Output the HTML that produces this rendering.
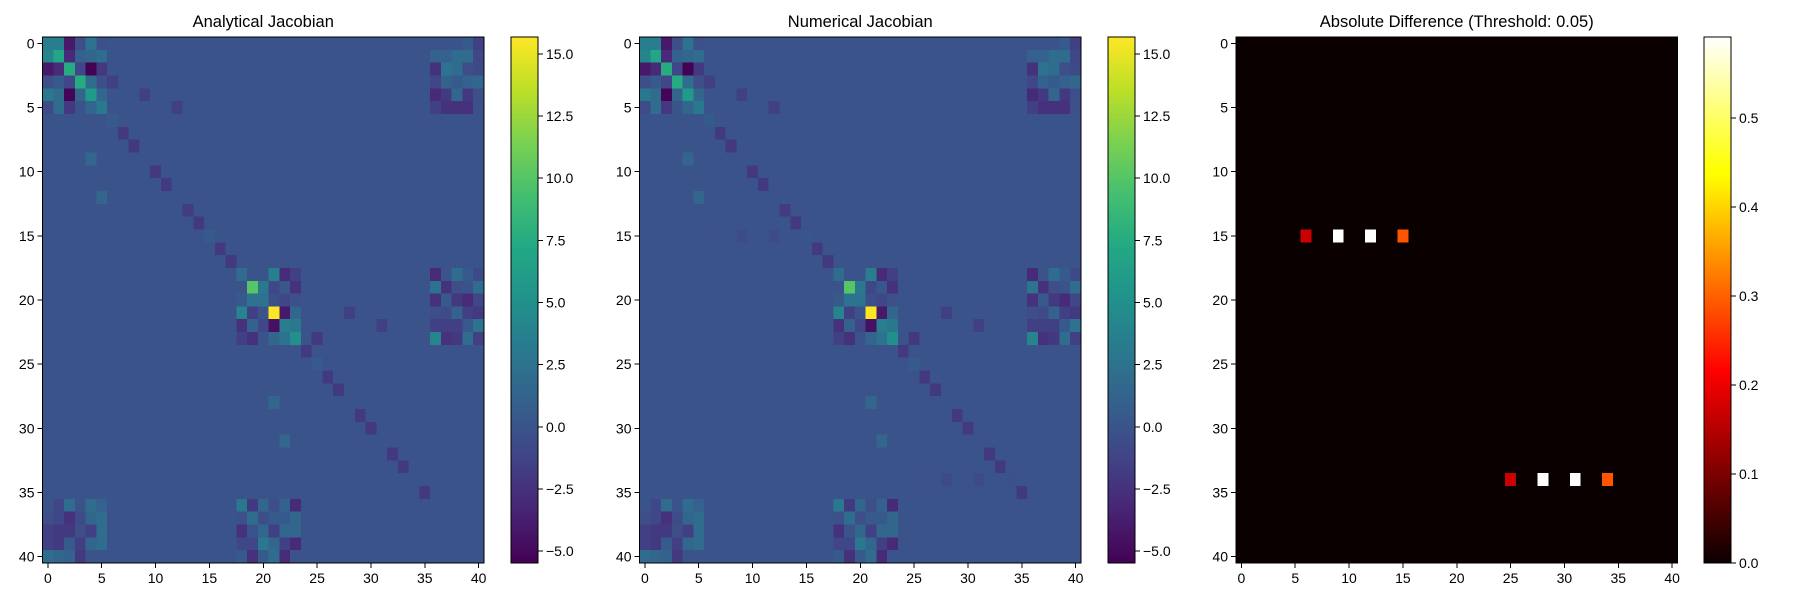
<!DOCTYPE html>
<html><head><meta charset="utf-8">
<style>
html,body{margin:0;padding:0;background:#fff;}
svg{display:block;font-family:"Liberation Sans","DejaVu Sans",sans-serif;}
</style></head>
<body>
<svg id="fig" width="1800" height="600" xmlns="http://www.w3.org/2000/svg" shape-rendering="crispEdges"></svg>
<script>
// ---- data: sparse analytical Jacobian (41x41) ----
const nSize = 41;
const jRows = [0,0,0,0,0,0,0,0, 1,1,1,1,1,1,1,1,1,1,1, 2,2,2,2,2,2,2,2,2,2,2, 3,3,3,3,3,3,3,3,3,3,3,3, 4,4,4,4,4,4,4,4,4,4,4,4, 5,5,5,5,5,5,5,5,5,5,5,
 6,7,8,9,10,11,12,13,14,15,16,17,
 18,18,18,18,18,18,18,18,
 19,19,19,19,19,19,19,19,19,19,
 20,20,20,20,20,20,20,20,20,20,20,
 21,21,21,21,21,21,21,21,21,21,21,
 22,22,22,22,22,22,22,22,22,22,22,22,
 23,23,23,23,23,23,23,23,23,23,23,
 24,25,26,27,28,29,30,31,32,33,35,
 36,36,36,36,36,36,36,36,36,36,
 37,37,37,37,37,37,37,37,37,37,37,37,
 38,38,38,38,38,38,38,38,38,38,38,38,
 39,39,39,39,39,39,39,39,39,39,39,39,
 40,40,40,40,40,40,40,40,40,40];
const jCols = [0,1,2,3,4,5,39,40, 0,1,2,3,4,5,36,37,38,39,40, 0,1,2,3,4,5,36,37,38,39,40, 0,1,2,3,4,5,6,36,37,38,39,40, 0,1,2,3,4,5,9,36,37,38,39,40, 0,1,2,4,5,12,36,37,38,39,40,
 6,7,8,4,10,11,5,13,14,15,16,17,
 18,21,22,23,36,38,39,40,
 19,20,21,22,23,36,37,38,39,40,
 18,19,20,21,22,23,36,37,38,39,40,
 18,19,21,22,23,28,36,37,38,39,40,
 18,19,20,21,22,23,31,36,37,38,39,40,
 18,19,21,22,23,25,36,37,38,39,40,
 24,25,26,27,21,29,30,22,32,33,35,
 1,2,4,5,18,19,20,21,22,23,
 0,1,2,3,4,5,18,19,20,21,22,23,
 0,1,2,3,4,5,18,19,20,21,22,23,
 0,1,2,3,4,5,18,19,20,21,22,23,
 0,1,2,3,18,19,20,21,22,23];
const jVals = [3.5,3.5,-4,-0.5,2.5,-0.3,0.5,-1.5, 4,7,-3,1,1.5,2,1,1,2,2,-1, -4,-3,7.5,-1,-5.4,-2,-2.5,2.5,2,-0.5,-0.8, -0.5,0.5,-1,7.5,2,-0.5,-1.5,-1,1,0.5,1,1.5, 3,2,-5.3,1.5,6,1.5,-1.5,-3,-2,1.5,-2,-0.5, -0.7,2,-2,1.5,3,-1.5,-1.5,-2.5,-2.5,-2.5,-0.3,
 0.5,-2,-2,1.5,-2,-2,1.5,-1.8,-2,0.4,-2,-2,
 2,3.5,-3,-1.5,-3,2,0.5,-0.8,
 10,3,-1,0.3,-2.5,2.5,-2.5,-0.5,0,2,
 0.5,2.5,2.5,-0.5,-1,-0.3,-2.5,0.5,-2,-3,-1,
 4,-1.5,15.7,-4,1.5,-1.5,-0.5,-0.7,1,-1.5,-2,
 -2.5,1,-1,-4.5,3.5,3,-1.5,-1.5,-1.5,-1.5,0.5,2.5,
 -1.5,-2.5,1.5,2.5,5,-2,4,-2.5,-2,2,-1.5,
 -2,0.5,-2,-2,1.5,-2,-2,1.5,-2,-2,-2,
 -1,2,2,1,3,-2,1.5,-0.5,1,-3,
 -0.5,-1,-2.5,-0.7,1.5,2,-0.3,2,-0.5,0.5,0.5,1.5,
 -1.5,-2,-2,-0.5,-1.5,2,-2.5,0,1.5,-1.5,1.5,1.5,
 -1.5,-2,0.5,-1.5,1.5,2,-1,-1,3,1.5,-1.5,-3,
 2,1.5,1,-2,0.5,-2.5,0.5,2,-3,0];
// numerical minus analytical (differences)
const dRows = [15,15,15,15,34,34,34,34];
const dCols = [6,9,12,15,25,28,31,34];
const dVals = [-0.17,-0.59,-0.59,-0.29,-0.17,-0.59,-0.59,-0.29];
const axisTicks = [0,5,10,15,20,25,30,35,40];
const viridisTicks = [-5.0,-2.5,0.0,2.5,5.0,7.5,10.0,12.5,15.0];
const hotTicks = [0.0,0.1,0.2,0.3,0.4,0.5];
const vMin = -5.48, vMax = 15.68, hMax = 0.591;

const NS = "http://www.w3.org/2000/svg";
const svgEl = document.getElementById('fig');
function mk(tag, attrs, parent){ const e=document.createElementNS(NS,tag); for(const k in attrs) e.setAttribute(k,attrs[k]); (parent||svgEl).appendChild(e); return e; }

const VIR=[[68,1,84],[72,36,117],[65,68,135],[53,95,141],[42,120,142],[33,145,140],[34,168,132],[68,191,112],[122,209,81],[189,223,38],[253,231,37]];
function viridis(t){ t=Math.max(0,Math.min(1,t)); const p=t*10, i=Math.min(9,Math.floor(p)), f=p-i; const a=VIR[i],b=VIR[i+1];
  return 'rgb('+a.map((v,k)=>Math.round(v+(b[k]-v)*f)).join(',')+')'; }
function hot(t){ t=Math.max(0,Math.min(1,t)); const r=Math.min(1,0.0416+t/0.365*0.9584), g=Math.max(0,Math.min(1,(t-0.365)/0.375)), b=Math.max(0,Math.min(1,(t-0.746)/0.254));
  return 'rgb('+[r,g,b].map(v=>Math.round(v*255)).join(',')+')'; }

const A=[],N=[],D=[];
for(let r=0;r<nSize;r++){A.push(new Array(nSize).fill(0));}
jRows.forEach((r,i)=>{ if(A[r] && jCols[i]!==undefined && jVals[i]!==undefined) A[r][jCols[i]]=jVals[i]; });
for(let r=0;r<nSize;r++){N.push(A[r].slice());D.push(new Array(nSize).fill(0));}
dRows.forEach((r,i)=>{ if(N[r]) N[r][dCols[i]]+=dVals[i]; });
for(let r=0;r<nSize;r++)for(let c=0;c<nSize;c++)D[r][c]=Math.abs(A[r][c]-N[r][c]);

const yTop=37, yBot=563, W=441.5;
function panel(x0, M, cmap, lo, hi, title, cbx, cbTicks, fmt, name){
  const g=mk('g',{});
  
  
  const cw=W/nSize, ch=(yBot-yTop)/nSize;
  const xs=c=>x0+c*cw, ys=r=>yTop+r*ch;
  for(let r=0;r<nSize;r++)for(let c=0;c<nSize;c++){
    const rc=mk('rect',{x:xs(c),y:ys(r),width:cw+0.6,height:ch+0.6,fill:cmap((M[r][c]-lo)/(hi-lo))},g);
    
    
  }
  const fr=mk('rect',{x:x0,y:yTop,width:W,height:yBot-yTop,fill:'none',stroke:'#000','stroke-width':1},g);
  
  
  const t=mk('text',{x:x0+W/2,y:27,'text-anchor':'middle','font-size':16.5,fill:'#000'},g); t.textContent=title;
  
  
  axisTicks.forEach(v=>{
    const x=xs(v+0.5);
    mk('line',{x1:x,x2:x,y1:yBot,y2:yBot+5,stroke:'#000'},g);
    const tx=mk('text',{x:x,y:yBot+20,'text-anchor':'middle','font-size':14},g); tx.textContent=v;
    
    
    const y=ys(v+0.5);
    mk('line',{x1:x0-5,x2:x0,y1:y,y2:y,stroke:'#000'},g);
    const ty=mk('text',{x:x0-8,y:y+5,'text-anchor':'end','font-size':14},g); ty.textContent=v;
    
    
  });
  const cg=mk('g',{},g);
  
  
  const steps=200, cbw=27, hh=(yBot-yTop)/steps;
  for(let i=0;i<steps;i++){ const tv=1-(i+0.5)/steps; mk('rect',{x:cbx,y:yTop+i*hh,width:cbw,height:hh+0.6,fill:cmap(tv)},cg); }
  mk('rect',{x:cbx,y:yTop,width:cbw,height:yBot-yTop,fill:'none',stroke:'#000','stroke-width':1},cg);
  cbTicks.forEach(v=>{
    const y=yBot-(v-lo)/(hi-lo)*(yBot-yTop);
    mk('line',{x1:cbx+cbw,x2:cbx+cbw+5,y1:y,y2:y,stroke:'#000'},cg);
    const tl=mk('text',{x:cbx+cbw+8,y:y+5,'font-size':14},cg); tl.textContent=fmt(v);
    
    
  });
}
const f1=v=>(v<0?'\u2212'+Math.abs(v).toFixed(1):v.toFixed(1));
panel(42.5, A, viridis, vMin, vMax, 'Analytical Jacobian', 511, viridisTicks, f1, 'analytical-panel');
panel(639.5, N, viridis, vMin, vMax, 'Numerical Jacobian', 1108, viridisTicks, f1, 'numerical-panel');
panel(1236, D, hot, 0, hMax, 'Absolute Difference (Threshold: 0.05)', 1704, hotTicks, v=>v.toFixed(1), 'difference-panel');
</script>
</body></html>
